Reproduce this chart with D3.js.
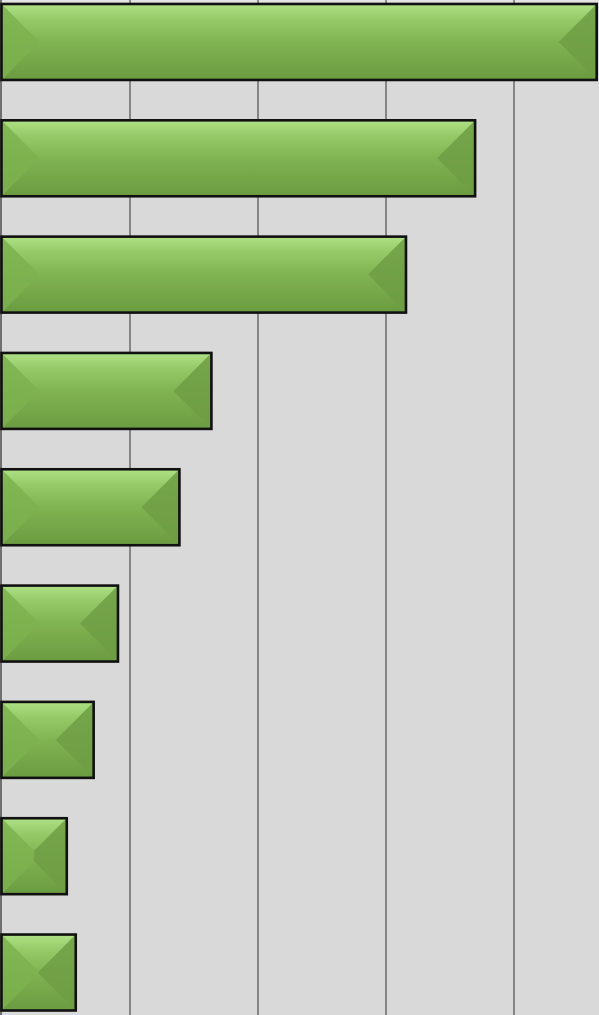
<!DOCTYPE html>
<html>
<head>
<meta charset="utf-8">
<script src="https://cdn.jsdelivr.net/npm/d3@7"></script>
<style>
  html, body { margin: 0; padding: 0; background: #d9d9d9; overflow: hidden; }
  svg { display: block; }
</style>
</head>
<body>
<svg id="chart" width="599" height="1015"></svg>
<script>
// values (one grid step = 10)
const categories = ["c1", "c2", "c3", "c4", "c5", "c6", "c7", "c8", "c9"];
const values = [46.5, 37.0, 31.6, 16.4, 13.9, 9.1, 7.2, 5.1, 5.8];
const gridTicks = [10, 20, 30, 40];

document.addEventListener('DOMContentLoaded', function () {
    const data = categories.map((c, i) => ({ cat: c, value: values[i] }));
    drawBars(data);
});

function drawBars(dataset) {
    const svg = d3.select("#chart");
    const width = 599, height = 1015;

    const xScale = d3.scaleLinear().domain([0, 10]).range([1.5, 129.5]);
    const yScale = d3.scaleBand()
        .domain(dataset.map(d => d.cat))
        .range([4, 1010.5])
        .paddingInner(0.347)
        .paddingOuter(0);

    // background + top strip
    svg.append('rect').attr('width', width).attr('height', height).attr('fill', '#d9d9d9');
    svg.append('rect').attr('width', width).attr('height', 2).attr('fill', '#e4e4e4');

    const defs = svg.append('defs');
    const grad = defs.append('linearGradient')
        .attr('id', 'barGrad').attr('x1', 0).attr('y1', 0).attr('x2', 0).attr('y2', 1);
    grad.append('stop').attr('offset', '0%').attr('stop-color', '#aee184');
    grad.append('stop').attr('offset', '20%').attr('stop-color', '#96ca69');
    grad.append('stop').attr('offset', '50%').attr('stop-color', '#80b352');
    grad.append('stop').attr('offset', '100%').attr('stop-color', '#6b9b40');

    // vertical grid lines
    svg.append('g')
        .attr('transform', `translate(0,${height})`)
        .call(d3.axisBottom(xScale).tickValues(gridTicks).tickSize(-height).tickFormat(''))
        .call(g => g.select('.domain').remove())
        .call(g => g.selectAll('line').attr('stroke', '#333').attr('stroke-width', 1));

    // left axis line
    svg.append('line')
        .attr('x1', 1).attr('x2', 1).attr('y1', 0).attr('y2', height)
        .attr('stroke', '#707070').attr('stroke-width', 2);

    const bars = svg.selectAll('.bar')
        .data(dataset)
        .enter().append('g')
        .attr('class', 'bar');

    bars.append('rect')
        .attr('x', xScale(0))
        .attr('y', d => yScale(d.cat))
        .attr('width', d => xScale(d.value) - xScale(0))
        .attr('height', yScale.bandwidth())
        .attr('fill', 'url(#barGrad)');

    function bevel(d) {
        const x0 = xScale(0), x1 = xScale(d.value);
        const y0 = yScale(d.cat), y1 = y0 + yScale.bandwidth();
        const b = Math.min(x1 - x0, y1 - y0) / 2;
        return { x0, x1, y0, y1, b };
    }

    // left facet
    bars.append('polygon')
        .attr('points', d => {
            const p = bevel(d);
            return [[p.x0, p.y0], [p.x0 + p.b, p.y0 + p.b], [p.x0 + p.b, p.y1 - p.b], [p.x0, p.y1]].join(' ');
        })
        .attr('fill', '#7db14f').attr('opacity', 0.85);

    // right facet
    bars.append('polygon')
        .attr('points', d => {
            const p = bevel(d);
            return [[p.x1, p.y0], [p.x1 - p.b, p.y0 + p.b], [p.x1 - p.b, p.y1 - p.b], [p.x1, p.y1]].join(' ');
        })
        .attr('fill', '#6e9e44').attr('opacity', 0.85);

    // outline
    bars.append('rect')
        .attr('x', xScale(0))
        .attr('y', d => yScale(d.cat))
        .attr('width', d => xScale(d.value) - xScale(0))
        .attr('height', yScale.bandwidth())
        .attr('fill', 'none')
        .attr('stroke', '#111')
        .attr('stroke-width', 2.6);
}
</script>
</body>
</html>
